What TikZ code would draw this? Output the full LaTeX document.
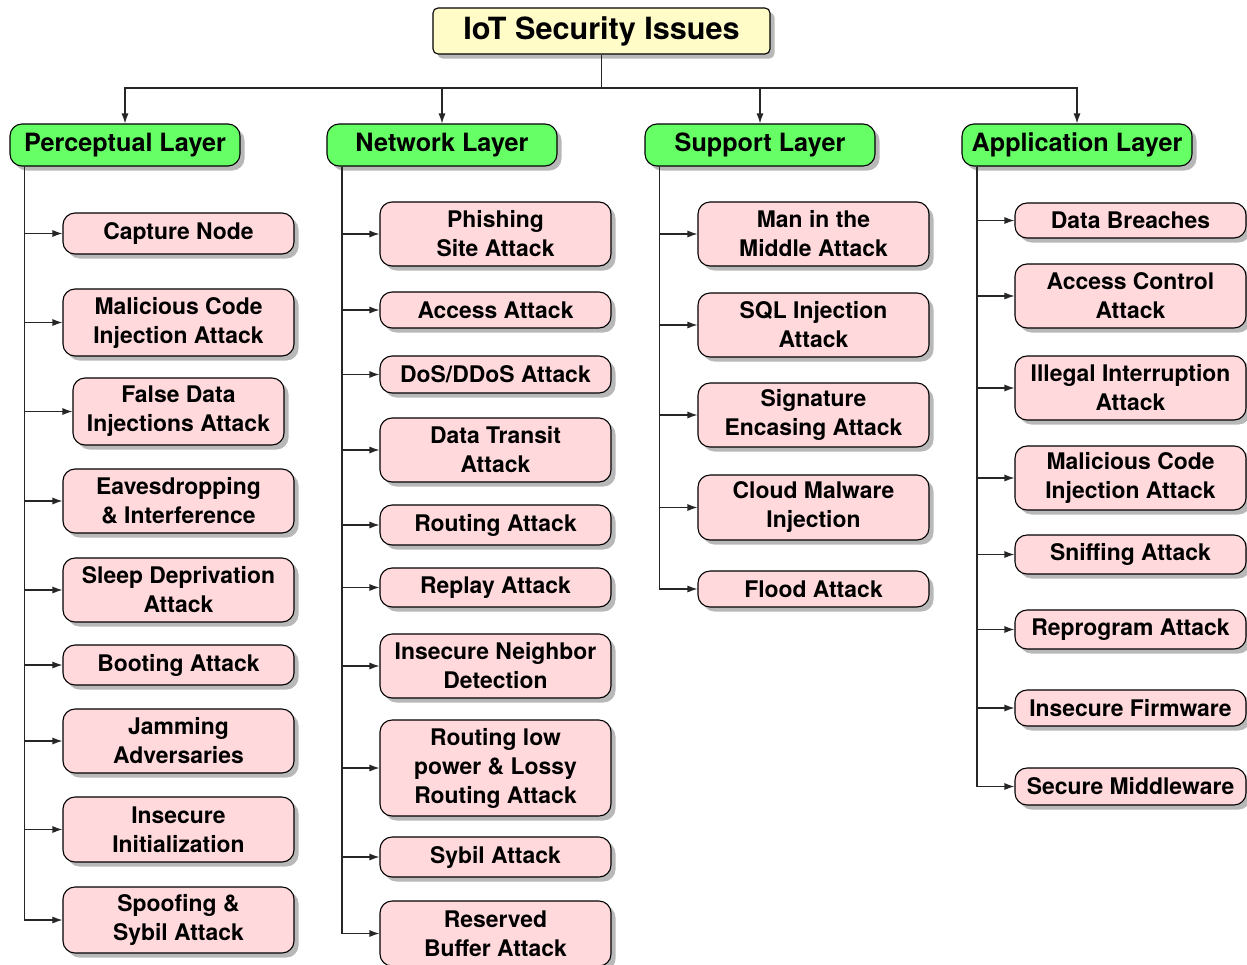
\documentclass[tikz,border=0pt]{standalone}
\usepackage{fontspec}
\setmainfont{TeX Gyre Heros}
\usetikzlibrary{shadows,arrows.meta}
\definecolor{rootfill}{RGB}{255,252,200}
\definecolor{layerfill}{RGB}{102,255,102}
\definecolor{itemfill}{RGB}{255,217,219}
\tikzset{
  boxbase/.style={draw=black, line width=1.1pt, align=center, inner sep=0pt,
    drop shadow={shadow xshift=4.5pt, shadow yshift=-4.5pt, fill=black!28, opacity=1}},
  rootbox/.style={boxbase, fill=rootfill, rounded corners=5pt,
    font=\bfseries\fontsize{30.6}{36}\selectfont},
  layerbox/.style={boxbase, fill=layerfill, rounded corners=12pt,
    minimum width=230pt, minimum height=42pt,
    font=\bfseries\fontsize{25.2}{30}\selectfont},
  itembox/.style={boxbase, fill=itemfill, rounded corners=12pt,
    font=\bfseries\fontsize{22.9}{29}\selectfont},
  conn/.style={line width=1.1pt, draw=black!85},
  arr/.style={conn, -{Latex[length=10pt,width=7pt]}}
}
% place an item box: name, centre x, centre y, width, height, text
\newcommand{\itemat}[6]{%
  \node[itembox, minimum width=#4pt, minimum height=#5pt] (#1) at (#2,#3) {#6};}
\begin{document}
\begin{tikzpicture}[x=1pt, y=-1pt]
\useasboundingbox (0,0) rectangle (1247,964);

% root and layers
\node[rootbox, minimum width=337pt, minimum height=46pt] (root) at (601.5,31) {IoT Security Issues};
\node[layerbox] (L1) at (125,145) {Perceptual Layer};
\node[layerbox] (L2) at (442,145) {Network Layer};
\node[layerbox] (L3) at (760,145) {Support Layer};
\node[layerbox] (L4) at (1077,145) {Application Layer};

% perceptual layer items
\itemat{a1}{178.5}{233.5}{231}{41}{Capture Node}
\itemat{a2}{178.5}{322.5}{231}{67}{Malicious Code\\Injection Attack}
\itemat{a3}{178.5}{411.5}{211}{67}{False Data\\Injections Attack}
\itemat{a4}{178.5}{501}{231}{64}{Eavesdropping\\\& Interference}
\itemat{a5}{178.5}{590}{231}{64}{Sleep Deprivation\\Attack}
\itemat{a6}{178.5}{665}{231}{40}{Booting Attack}
\itemat{a7}{178.5}{741}{231}{64}{Jamming\\Adversaries}
\itemat{a8}{178.5}{829.5}{231}{65}{Insecure\\Initialization}
\itemat{a9}{178.5}{920}{231}{66}{Spoofing \&\\Sybil Attack}

% network layer items
\itemat{b1}{495.5}{234}{231}{64}{Phishing\\Site Attack}
\itemat{b2}{495.5}{310}{231}{36}{Access Attack}
\itemat{b3}{495.5}{374.5}{231}{37}{DoS/DDoS Attack}
\itemat{b4}{495.5}{450}{231}{64}{Data Transit\\Attack}
\itemat{b5}{495.5}{525}{231}{40}{Routing Attack}
\itemat{b6}{495.5}{587.5}{231}{39}{Replay Attack}
\itemat{b7}{495.5}{666}{231}{64}{Insecure Neighbor\\Detection}
\itemat{b8}{495.5}{768}{231}{96}{Routing low\\power \& Lossy\\Routing Attack}
\itemat{b9}{495.5}{857}{231}{40}{Sybil Attack}
\itemat{b10}{495.5}{933.5}{231}{65}{Reserved\\Buffer Attack}

% support layer items
\itemat{s1}{813.5}{234}{231}{64}{Man in the\\Middle Attack}
\itemat{s2}{813.5}{325}{231}{64}{SQL Injection\\Attack}
\itemat{s3}{813.5}{415}{231}{64}{Signature\\Encasing Attack}
\itemat{s4}{813.5}{507.5}{231}{65}{Cloud Malware\\Injection}
\itemat{s5}{813.5}{589}{231}{36}{Flood Attack}

% application layer items
\itemat{p1}{1130.5}{220.5}{231}{35}{Data Breaches}
\itemat{p2}{1130.5}{296}{231}{64}{Access Control\\Attack}
\itemat{p3}{1130.5}{388}{231}{64}{Illegal Interruption\\Attack}
\itemat{p4}{1130.5}{478}{231}{64}{Malicious Code\\Injection Attack}
\itemat{p5}{1130.5}{554.5}{231}{39}{Sniffing Attack}
\itemat{p6}{1130.5}{629.5}{231}{39}{Reprogram Attack}
\itemat{p7}{1130.5}{708}{231}{36}{Insecure Firmware}
\itemat{p8}{1130.5}{786.5}{231}{37}{Secure Middleware}

% root to layers
\coordinate (bus) at (root.south |- 0,88);
\draw[conn] (root.south) -- (bus);
\foreach \L in {L1,L2,L3,L4} \draw[arr] (bus) -| (\L.north);

% layer trunks to items
\coordinate (t1) at ([xshift=15pt]L1.south west);
\coordinate (t2) at ([xshift=15.5pt]L2.south west);
\coordinate (t3) at ([xshift=15pt]L3.south west);
\coordinate (t4) at ([xshift=15.5pt]L4.south west);
\foreach \c in {a1,a2,a3,a4,a5,a6,a7,a8,a9} \draw[arr] (t1) |- (\c.west);
\foreach \c in {b1,b2,b3,b4,b5,b6,b7,b8,b9,b10} \draw[arr] (t2) |- (\c.west);
\foreach \c in {s1,s2,s3,s4,s5} \draw[arr] (t3) |- (\c.west);
\foreach \c in {p1,p2,p3,p4,p5,p6,p7,p8} \draw[arr] (t4) |- (\c.west);
\end{tikzpicture}
\end{document}
